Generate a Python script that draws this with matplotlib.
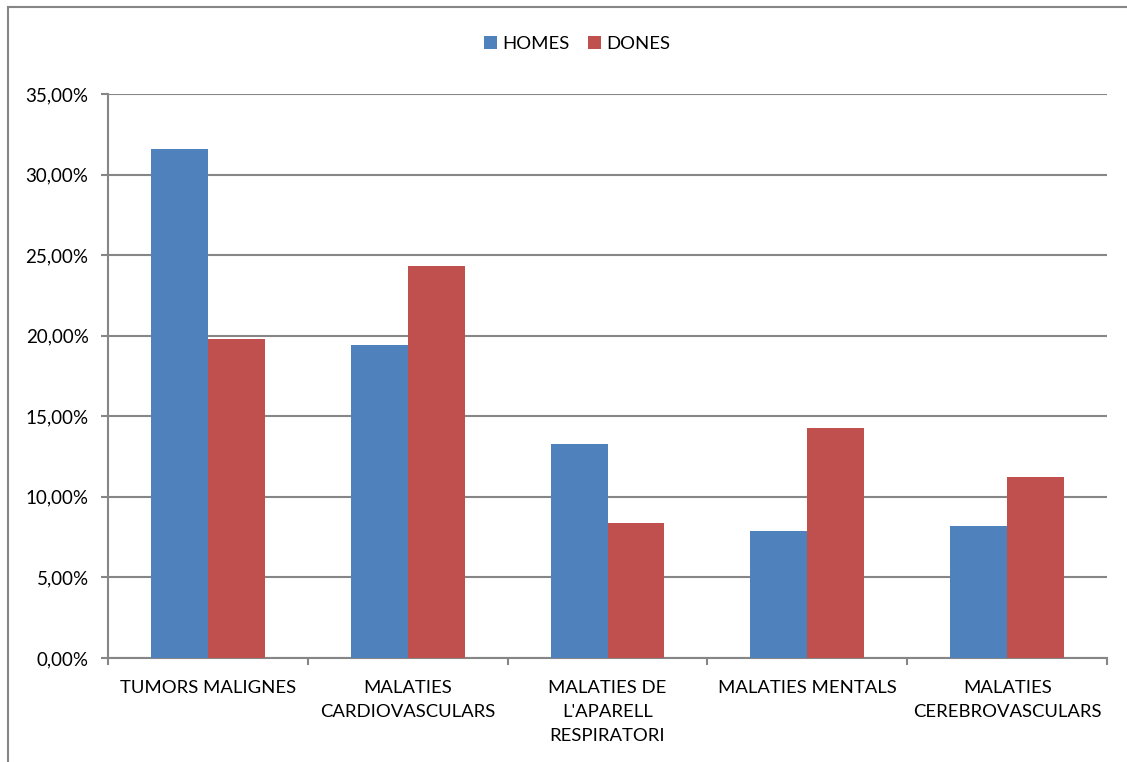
import numpy as np
import matplotlib.pyplot as plt
from matplotlib.lines import Line2D
from matplotlib.ticker import FuncFormatter

plt.rcParams['font.family'] = ['Lato', 'DejaVu Sans']

# dades
categories = ["TUMORS MALIGNES", "MALATIES\nCARDIOVASCULARS", "MALATIES DE\nL'APARELL\nRESPIRATORI",
              "MALATIES MENTALS", "MALATIES\nCEREBROVASCULARS"]
homes = [31.6, 19.45, 13.25, 7.9, 8.2]
dones = [19.8, 24.35, 8.4, 14.3, 11.2]

blau = '#4F81BD'
vermell = '#C0504D'
gris = '#868686'

fig = plt.figure(figsize=(11.27, 7.62), dpi=100)
ax = fig.add_axes([0.0958, 0.1365, 0.8865, 0.7402])

x = np.arange(len(categories))
w = 0.285
ax.bar(x - w/2, homes, w, color=blau, label='HOMES', zorder=3)
ax.bar(x + w/2, dones, w, color=vermell, label='DONES', zorder=3)

ax.set_xlim(-0.5, len(categories) - 0.5)
ax.set_ylim(0, 35)
ax.set_yticks(np.arange(0, 36, 5))
ax.yaxis.set_major_formatter(FuncFormatter(lambda v, p: ('%.2f%%' % v).replace('.', ',')))
ax.grid(axis='y', color=gris, linewidth=1.5, zorder=0)

ax.set_xticks(x)
ax.set_xticklabels(categories, fontsize=13.3, linespacing=1.6, va='top')
ax.set_xticks(np.arange(-0.5, len(categories), 1), minor=True)
ax.tick_params(axis='x', which='major', length=0, pad=16)
ax.tick_params(axis='x', which='minor', length=5, width=1.5, color=gris, direction='out')
ax.tick_params(axis='y', length=5, width=1.5, color=gris, labelsize=13.5, pad=9)

for s in ['top', 'right']:
    ax.spines[s].set_visible(False)
for s in ['left', 'bottom']:
    ax.spines[s].set_color(gris)
    ax.spines[s].set_linewidth(1.5)

fig.legend(loc='center', bbox_to_anchor=(0.512, 0.942), ncol=2, frameon=False, fontsize=13.3,
           handlelength=0.7, handleheight=0.7, handletextpad=0.3, columnspacing=1.0)

# vora exterior del gràfic
fig.add_artist(Line2D([0.0071, 1.0], [0.9908, 0.9908], color=gris, linewidth=1.5))
fig.add_artist(Line2D([0.0071, 0.0071], [0.0, 0.9908], color=gris, linewidth=1.5))

plt.savefig("out.png", dpi=100)
